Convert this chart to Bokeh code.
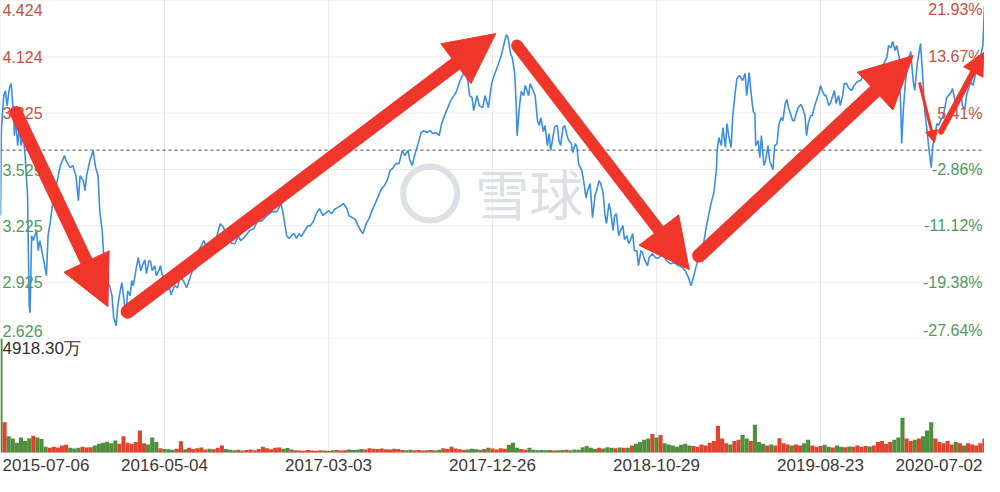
import math
import numpy as np
from bokeh.plotting import figure
from bokeh.layouts import column
from bokeh.models import Range1d, Arrow, NormalHead
from bokeh.core.properties import value
from bokeh.embed import file_html
from bokeh.resources import INLINE

# ---------------- data ----------------
# trading-day index (0 = 2015-07-06, 1200 = 2020-07-02) and closing price
DAYS = [
    0, 1, 4, 6, 8, 11, 13, 16, 17, 18, 21, 23, 25, 28, 30, 33, 35, 36, 38, 40,
    44, 46, 48, 52, 56, 58, 61, 64, 68, 73, 78, 80, 85, 88, 92, 95, 97, 101, 103, 105,
    109, 113, 116, 119, 121, 124, 126, 128, 133, 136, 138, 141, 143, 145, 148, 150, 153, 155, 158, 160,
    162, 165, 168, 171, 173, 176, 178, 181, 183, 185, 188, 190, 193, 195, 198, 200, 204, 206, 208, 212,
    216, 219, 223, 227, 230, 234, 238, 241, 245, 248, 252, 256, 259, 264, 268, 272, 275, 279, 282, 286,
    290, 293, 297, 301,
    304, 309, 313, 319, 325, 331, 337, 342, 344, 347, 349, 352, 355, 358, 361, 364, 367, 371, 375, 378,
    382, 385, 389, 393, 396, 400, 404, 407, 411, 415, 418, 422, 425, 429, 433, 436, 440, 442, 446, 450,
    453, 457, 461, 464, 468, 472, 475, 479, 482, 486, 490, 493, 497, 499, 502, 505, 509, 513, 516, 520,
    524, 527, 531, 535, 538, 542, 545, 549, 553, 556, 560, 564, 567, 570, 572, 575, 577, 581, 584, 588,
    591, 595, 599,
    602, 606, 610, 613, 617, 619, 622, 624, 627, 629, 630, 633, 635, 638, 640, 644, 646, 650, 652, 655,
    657, 659, 662, 664, 667, 669, 671, 674, 676, 679, 681, 683, 686, 688, 691, 693, 696, 698, 701, 703,
    705, 709, 712, 714, 716, 719, 722, 725, 727, 730, 732, 735, 737, 739, 742, 744, 747, 749, 751, 754,
    756, 759, 761, 764, 766, 768, 771, 773, 776, 778, 781, 783, 785, 789, 791, 795, 799, 802, 807, 812,
    817, 822, 827, 832, 835, 839, 842, 845, 847, 850, 852, 856, 858, 861, 863, 866, 868, 870, 873, 874,
    876, 879, 881, 884, 886, 888, 891, 893, 896, 898, 901, 903,
    905, 908, 910, 913, 915, 918, 920, 921, 924, 926, 928, 931, 933, 936, 938, 942, 944, 947, 949, 952,
    954, 957, 959, 961, 964, 966, 968, 971, 973, 976, 978, 981, 983, 985, 988, 990, 993, 995, 998, 1000,
    1002, 1005, 1007, 1010, 1012, 1015, 1017, 1019, 1022, 1024, 1027, 1029, 1032, 1034, 1038, 1041, 1045, 1049, 1052, 1057,
    1062, 1067, 1072, 1076, 1081, 1083, 1086, 1088, 1091, 1093, 1096, 1097, 1098, 1099, 1101, 1103, 1105, 1108, 1110, 1113,
    1115, 1118, 1120, 1122, 1125, 1127, 1130, 1132, 1135, 1137, 1139, 1142, 1144, 1147, 1149, 1151, 1154, 1156, 1159, 1161,
    1164, 1166, 1169, 1171, 1173, 1176, 1178, 1181, 1183, 1186, 1188, 1190, 1193, 1195, 1198, 1200,
]
PRICES = [
    3.280, 3.732, 3.918, 3.945, 3.865, 3.961, 3.982, 3.812, 3.705, 3.812, 3.652, 3.759, 3.652, 3.705, 3.599, 3.386, 2.800, 2.763, 3.173, 3.147,
    3.200, 3.093, 3.147, 3.056, 2.960, 3.173, 3.253, 3.359, 3.439, 3.546, 3.599, 3.572, 3.535, 3.546, 3.492, 3.359, 3.492, 3.466, 3.413, 3.492,
    3.572, 3.626, 3.535, 3.492, 3.306, 3.200, 3.056, 2.934, 2.907, 2.854, 2.737, 2.694, 2.800, 2.854, 2.923, 2.854, 2.737, 2.880, 2.854, 2.934,
    2.907, 2.987, 3.056, 2.987, 3.013, 3.045, 2.971, 3.040, 3.035, 2.987, 3.013, 2.960, 2.987, 3.013, 2.950, 2.960, 2.886, 2.896, 2.859, 2.907,
    2.896, 2.960, 2.934, 2.896, 2.934, 2.987, 2.997, 3.088, 3.120, 3.147, 3.099, 3.056, 3.093, 3.173, 3.237, 3.216, 3.184, 3.158, 3.131, 3.131,
    3.173, 3.147, 3.163, 3.184,
    3.200, 3.211, 3.248, 3.253, 3.280, 3.301, 3.301, 3.344, 3.306, 3.226, 3.173, 3.158, 3.173, 3.184, 3.158, 3.184, 3.168, 3.200, 3.226, 3.226,
    3.253, 3.290, 3.317, 3.280, 3.290, 3.306, 3.290, 3.312, 3.322, 3.333, 3.344, 3.322, 3.280, 3.269, 3.258, 3.226, 3.195, 3.184, 3.237, 3.269,
    3.306, 3.344, 3.386, 3.418, 3.439, 3.471, 3.519, 3.535, 3.556, 3.556, 3.626, 3.599, 3.626, 3.578, 3.546, 3.599, 3.658, 3.721, 3.732, 3.721,
    3.732, 3.716, 3.721, 3.705, 3.769, 3.817, 3.849, 3.892, 3.918, 3.940, 3.993, 4.030, 4.062, 3.993, 3.918, 3.908, 3.839, 3.918, 3.865, 3.854,
    3.918, 3.854, 3.982,
    4.025, 4.073, 4.121, 4.174, 4.243, 4.227, 4.142, 4.121, 4.041, 3.865, 3.705, 3.865, 3.940, 3.918, 3.972, 3.918, 3.982, 3.940, 3.918, 3.780,
    3.759, 3.801, 3.727, 3.759, 3.652, 3.716, 3.626, 3.705, 3.753, 3.759, 3.679, 3.652, 3.748, 3.759, 3.705, 3.679, 3.663, 3.615, 3.663, 3.642,
    3.556, 3.519, 3.439, 3.375, 3.413, 3.450, 3.269, 3.386, 3.413, 3.466, 3.450, 3.397, 3.290, 3.237, 3.344, 3.306, 3.200, 3.280, 3.290, 3.173,
    3.200, 3.226, 3.152, 3.173, 3.131, 3.147, 3.184, 3.093, 3.093, 3.013, 3.093, 3.083, 3.051, 3.013, 3.056, 3.077, 3.056, 3.051, 3.077, 3.040,
    3.024, 3.029, 3.013, 3.003, 2.987, 2.950, 2.907, 2.950, 2.987, 3.035, 3.056, 3.109, 3.147, 3.226, 3.269, 3.333, 3.370, 3.402, 3.519, 3.626,
    3.695, 3.652, 3.748, 3.642, 3.769, 3.705, 3.642, 3.812, 3.934, 4.009, 4.025, 4.014,
    3.998, 4.035, 3.918, 4.041, 3.945, 3.833, 3.823, 3.652, 3.679, 3.588, 3.705, 3.546, 3.572, 3.652, 3.572, 3.524, 3.652, 3.663, 3.759, 3.801,
    3.785, 3.876, 3.897, 3.855, 3.812, 3.785, 3.785, 3.833, 3.855, 3.871, 3.855, 3.812, 3.705, 3.769, 3.812, 3.812, 3.865, 3.892, 3.929, 3.972,
    3.945, 3.918, 3.918, 3.865, 3.876, 3.918, 3.945, 3.876, 3.918, 3.865, 3.918, 3.982, 3.982, 3.961, 3.945, 3.972, 3.993, 3.998, 4.025, 4.025,
    4.014, 4.046, 4.067, 4.078, 4.121, 4.184, 4.174, 4.206, 4.158, 4.184, 4.121, 3.945, 3.839, 3.663, 3.839, 3.961, 4.051, 4.121, 4.153, 3.998,
    3.945, 4.089, 4.142, 4.195, 3.998, 3.839, 3.732, 3.642, 3.535, 3.652, 3.695, 3.769, 3.759, 3.791, 3.801, 3.839, 3.908, 3.918, 3.934, 3.956,
    3.892, 3.865, 3.918, 3.940, 3.865, 3.844, 3.918, 3.961, 3.993, 3.972, 4.014, 4.046, 4.083, 4.121, 4.184, 4.397,
]

# volume (万股), one bar per 5 trading days
VOL_STEP = 5
VOLUME = [
    4918.3, 1300, 700, 600, 420, 650, 500, 620, 720, 650,
    580, 250, 200, 250, 220, 300, 330, 200, 170, 200,
    250, 220, 230, 300, 380, 420, 460, 400, 520, 380,
    700, 420, 380, 450, 950, 400, 350, 650, 450, 180,
    150, 140, 120, 160, 480, 140, 200, 150, 180, 220,
    130, 160, 140, 200, 300, 150, 120, 100, 120, 90,
    110, 130, 100, 150, 250, 180, 140, 200, 220, 160,
    190, 130, 100, 90, 80, 110, 90, 80, 100, 90,
    80, 100, 110, 90, 100, 130, 110, 120, 150, 130,
    180, 160, 150, 170, 140, 130, 160, 150, 110, 100,
    120, 100, 110, 90, 100, 110, 90, 120, 180, 150,
    250, 170, 140, 120, 130, 160, 140, 120, 150, 200,
    170, 130, 180, 160, 330, 420, 200, 150, 120, 200,
    120, 100, 110, 100, 110, 90, 100, 110, 120, 100,
    130, 120, 230, 280, 200, 150, 200, 170, 230, 200,
    180, 220, 200, 200, 300, 380, 450, 550, 600, 800,
    650, 750, 400, 350, 300, 250, 330, 380, 300, 280,
    250, 350, 300, 420, 500, 1150, 600, 400, 350, 500,
    550, 750, 600, 500, 1200, 450, 380, 300, 350, 300,
    620, 400, 350, 300, 350, 300, 400, 550, 300, 250,
    280, 330, 250, 220, 300, 250, 230, 260, 250, 300,
    250, 280, 260, 300, 450, 500, 380, 450, 550, 650,
    1500, 600, 500, 550, 600, 700, 950, 1300, 600, 450,
    400, 500, 350, 450, 400, 300, 400, 350, 300, 400,
    600,
]
VMAX = 4918.30
VMAX_LABEL = "4918.30万"

DATE_TICKS = [0, 200, 400, 600, 800, 1000, 1200]
DATE_LABELS = ["2015-07-06", "2016-05-04", "2017-03-03", "2017-12-26",
               "2018-10-29", "2019-08-23", "2020-07-02"]
PRICE_TICKS = [4.424, 4.124, 3.825, 3.525, 3.225, 2.925, 2.626]
PRICE_LABELS = ["4.424", "4.124", "3.825", "3.525", "3.225", "2.925", "2.626"]
PCT_LABELS = ["21.93%", "13.67%", "5.41%", "-2.86%", "-11.12%", "-19.38%", "-27.64%"]
BASE = 3.628

# hand-drawn annotation arrows: (day0, price0, day1, price1, shaft px, head px)
ARROWS = [
    (19, 3.828, 131, 2.795, 13, 50),
    (155, 2.769, 604, 4.248, 14, 50),
    (630, 4.184, 840, 2.992, 12, 50),
    (852, 3.067, 1113, 4.131, 14, 52),
    (1121, 3.982, 1139, 3.668, 3, 12),
    (1147, 3.727, 1199, 4.147, 6, 22),
]

# ---------------- styles ----------------
LINE_C = "#3a8ee6"
GRID_C = "#ebebeb"
RED_T = "#c8503e"
GREEN_T = "#4e9a5f"
VOL_UP = "#e0442f"
VOL_DN = "#4f8f3c"
ARROW_C = "#f0352a"
WM_C = "#dcdfe3"
FONT = value("Liberation Sans")
W = 984
H1 = 338
H2 = 138
VOL_PX = 114   # height of the bar area inside the volume panel

# ---------------- price panel ----------------
ptop, pbot = PRICE_TICKS[0], PRICE_TICKS[-1]
p1 = figure(width=W, height=H1, x_range=Range1d(0, 1200),
            y_range=Range1d(pbot, ptop),
            output_backend="svg", toolbar_location=None,
            x_axis_type=None, y_axis_type=None, min_border=0)
p1.outline_line_color = None

p1.segment(x0=[0] * len(PRICE_TICKS), y0=PRICE_TICKS, x1=[1200] * len(PRICE_TICKS), y1=PRICE_TICKS,
           line_color=GRID_C, line_width=1)
p1.segment(x0=DATE_TICKS, y0=[pbot] * len(DATE_TICKS), x1=DATE_TICKS, y1=[ptop] * len(DATE_TICKS),
           line_color=GRID_C, line_width=1)

# watermark
p1.scatter([524], [3.397], marker="circle", size=54, fill_alpha=0,
           line_color=WM_C, line_width=6)
p1.text([579], [3.405], text=["雪球"], text_font=value("Noto Sans CJK SC"),
        text_font_size="54px", text_color=WM_C, text_baseline="middle",
        text_align="left")

p1.line([0, 1200], [BASE, BASE], line_color="#444444", line_dash="3 3", line_width=1)
p1.line(DAYS, PRICES, line_color=LINE_C, line_width=1.6)

tick_cols = [RED_T if t > BASE else GREEN_T for t in PRICE_TICKS]
offs = [9] + [0] * (len(PRICE_TICKS) - 2) + [-8]
p1.text(x=[0] * len(PRICE_TICKS), y=PRICE_TICKS, text=PRICE_LABELS, text_color=tick_cols,
        x_offset=2, y_offset=offs, text_align="left", text_baseline="middle",
        text_font=FONT, text_font_size="16px")
p1.text(x=[1200] * len(PRICE_TICKS), y=PRICE_TICKS, text=PCT_LABELS, text_color=tick_cols,
        x_offset=-2, y_offset=offs, text_align="right", text_baseline="middle",
        text_font=FONT, text_font_size="16px")

# arrows: shaft (stops inside the head) + head
px_day = W / 1200.0
px_price = H1 / (ptop - pbot)
for (d0, v0, d1, v1, lw, hs) in ARROWS:
    dx = (d1 - d0) * px_day
    dy = (v1 - v0) * px_price
    L = math.hypot(dx, dy)
    back = hs * 0.6
    de = d1 - dx / L * back / px_day
    ve = v1 - dy / L * back / px_price
    p1.segment(x0=[d0], y0=[v0], x1=[de], y1=[ve], line_color=ARROW_C,
               line_width=lw, line_cap="round")
    p1.add_layout(Arrow(end=NormalHead(size=hs, fill_color=ARROW_C, line_color=ARROW_C, line_width=1),
                        x_start=de, y_start=ve, x_end=d1, y_end=v1,
                        line_alpha=0, line_width=1))

# ---------------- volume panel ----------------
vol_days = [i * VOL_STEP for i in range(len(VOLUME))]
vol_cols = []
for d in vol_days:
    now = np.interp(d, DAYS, PRICES)
    prev = np.interp(max(d - VOL_STEP, 0), DAYS, PRICES)
    vol_cols.append(VOL_UP if now >= prev else VOL_DN)
vol_cols[0] = VOL_DN

lab_px = H2 - VOL_PX
p2 = figure(width=W, height=H2, x_range=p1.x_range,
            y_range=Range1d(-VMAX * lab_px / VOL_PX, VMAX),
            output_backend="svg", toolbar_location=None,
            x_axis_type=None, y_axis_type=None, min_border=0)
p2.outline_line_color = None

p2.segment(x0=[0, 0], y0=[0, VMAX], x1=[1200, 1200], y1=[0, VMAX], line_color=GRID_C, line_width=1)
p2.segment(x0=DATE_TICKS, y0=[0] * len(DATE_TICKS), x1=DATE_TICKS, y1=[VMAX] * len(DATE_TICKS),
           line_color=GRID_C, line_width=1)
p2.vbar(x=vol_days, top=VOLUME, bottom=0, width=VOL_STEP, fill_color=vol_cols,
        line_color=None)

p2.text(x=[0], y=[VMAX], text=[VMAX_LABEL], x_offset=2, y_offset=10,
        text_align="left", text_baseline="middle", text_color="#333333",
        text_font=FONT, text_font_size="17px")

ly = -VMAX * 12 / VOL_PX
p2.text(x=[DATE_TICKS[0]], y=[ly], text=[DATE_LABELS[0]], x_offset=2, text_align="left",
        text_baseline="middle", text_color="#3a3a3a", text_font=FONT, text_font_size="17px")
p2.text(x=DATE_TICKS[1:-1], y=[ly] * (len(DATE_TICKS) - 2), text=DATE_LABELS[1:-1], text_align="center",
        text_baseline="middle", text_color="#3a3a3a", text_font=FONT, text_font_size="17px")
p2.text(x=[DATE_TICKS[-1]], y=[ly], text=[DATE_LABELS[-1]], x_offset=-2, text_align="right",
        text_baseline="middle", text_color="#3a3a3a", text_font=FONT, text_font_size="17px")

layout = column(p1, p2, spacing=0)
open("out.html", "w").write(file_html(layout, INLINE))
